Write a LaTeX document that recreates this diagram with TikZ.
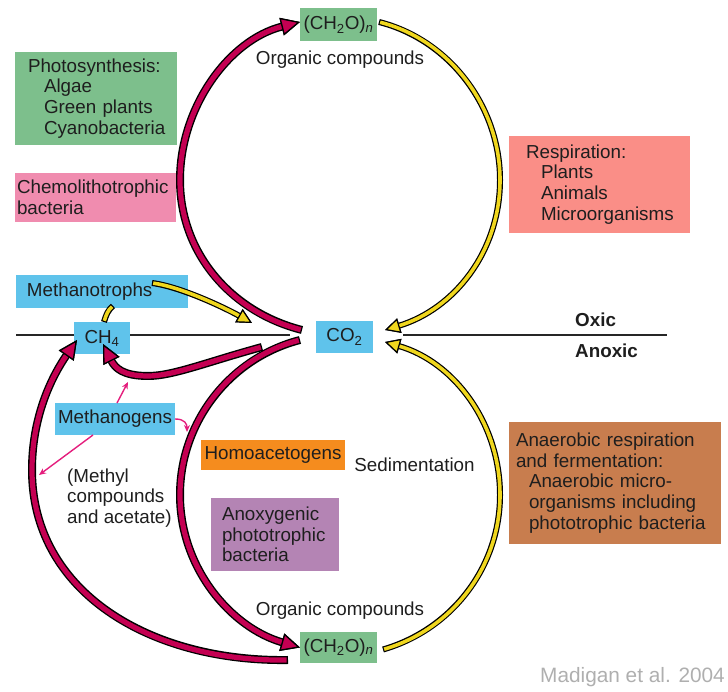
\documentclass[tikz,border=0pt]{standalone}
\usepackage{fontspec}
\setmainfont{Liberation Sans}
\usetikzlibrary{arrows.meta,calc}
\definecolor{boxgreen}{RGB}{125,191,140}
\definecolor{boxpink}{RGB}{240,140,175}
\definecolor{boxsalmon}{RGB}{250,142,135}
\definecolor{boxblue}{RGB}{95,195,235}
\definecolor{boxorange}{RGB}{245,140,30}
\definecolor{boxpurple}{RGB}{180,132,180}
\definecolor{boxbrown}{RGB}{200,125,78}
\definecolor{arrmag}{RGB}{196,0,82}
\definecolor{arryel}{RGB}{240,215,30}
\definecolor{thinmag}{RGB}{228,30,125}
\definecolor{txt}{RGB}{30,30,30}
\definecolor{creditgray}{RGB}{175,175,175}
\newcommand{\indline}[2][15pt]{\mbox{\hskip#1\relax #2}}
\newcommand{\magarrow}[1]{\draw[magout] #1;\draw[magin] #1;}
\newcommand{\yelarrow}[1]{\draw[yelout] #1;\draw[yelin] #1;}
\newcommand{\yelband}[1]{\draw[yelbandout] #1;\draw[yelbandin] #1;}
\begin{document}
\begin{tikzpicture}[x=1pt,y=1pt,
  every node/.style={font=\fontsize{18.8}{20.7}\selectfont, text=txt},
  cbox/.style={fill=#1, inner ysep=0pt, outer sep=0pt},
  plain/.style={inner sep=0pt},
  magout/.style={draw=black, line width=8pt,
    -{Triangle[length=19pt,width=18pt,line width=1.3pt,color=black,fill=black]}},
  magin/.style={draw=arrmag, line width=5.2pt, shorten <=1.3pt,
    -{Triangle[length=19pt,width=18pt,line width=1.3pt,color=black,fill=arrmag]}},
  yelout/.style={draw=black, line width=6pt,
    -{Triangle[length=15pt,width=15pt,line width=1.2pt,color=black,fill=black]}},
  yelin/.style={draw=arryel, line width=3.6pt, shorten <=1.2pt,
    -{Triangle[length=15pt,width=15pt,line width=1.2pt,color=black,fill=arryel]}},
  yelbandout/.style={draw=black, line width=6pt},
  yelbandin/.style={draw=arryel, line width=3.6pt, shorten <=1.2pt, shorten >=1.2pt},
  thinarrow/.style={draw=thinmag, line width=1.4pt, -{Stealth[length=7pt,width=6pt]}},
  boundary/.style={draw=black!85, line width=1.6pt}
]
\useasboundingbox (0,0) rectangle (728,692);
\clip (0,0) rectangle (728,692);

% oxic / anoxic boundary
\draw[boundary] (16,357) -- (290,357);
\draw[boundary] (403,357) -- (667,357);

% boxes
\node[cbox=boxgreen, minimum width=77, minimum height=33, inner xsep=0pt] (topCH) at (338.5,667) {(CH\textsubscript{2}O)\textsubscript{\itshape n}};
\node[cbox=boxgreen, minimum width=77, minimum height=31, inner xsep=0pt] (botCH) at (338.5,44.5) {(CH\textsubscript{2}O)\textsubscript{\itshape n}};
\node[cbox=boxblue, minimum width=57, minimum height=32, inner xsep=0pt] (CO2) at (344.5,355) {CO\textsubscript{2}};
\node[cbox=boxblue, minimum width=56, minimum height=32, inner xsep=0pt] (CH4) at (102,354) {CH\textsubscript{4}};
\node[cbox=boxblue, text width=150, inner xsep=11, minimum height=33, align=left] (meth) at (102,400.5) {Methanotrophs};
\node[cbox=boxblue, minimum width=120, minimum height=32, inner xsep=0pt] (mgen) at (115,273) {Methanogens};
\node[cbox=boxgreen, text width=136, inner xsep=13, minimum height=93, align=left] (photo) at (96,593.5)
  {Photosynthesis:\\\indline[16pt]{Algae}\\\indline[16pt]{Green plants}\\\indline[16pt]{Cyanobacteria}};
\node[cbox=boxpink, text width=157, inner xsep=2, minimum height=49, align=left] (chemo) at (95.5,494.5)
  {Chemolithotrophic\\bacteria};
\node[cbox=boxsalmon, text width=147, inner xsep=17, minimum height=97, align=left] (resp) at (599.5,507.5)
  {Respiration:\\\indline{Plants}\\\indline{Animals}\\\indline{Microorganisms}};
\node[cbox=boxbrown, text width=198, inner xsep=7, minimum height=122, align=left] (anaer) at (615,209)
  {Anaerobic respiration\\and fermentation:\\\indline[13pt]{Anaerobic micro-}\\\indline[13pt]{organisms including}\\\indline[13pt]{phototrophic bacteria}};
\node[cbox=boxorange, minimum width=144, minimum height=30, inner xsep=0pt] (homo) at (273,237) {Homoacetogens};
\node[cbox=boxpurple, text width=106, inner xsep=11, minimum height=73, align=left] (anox) at (275,157.5)
  {Anoxygenic\\phototrophic\\bacteria};

% plain labels
\node[plain] (orgT) at (340,632) {Organic compounds};
\node[plain] (orgB) at (340,81) {Organic compounds};
\node[plain] (sed) at (414.5,227) {Sedimentation};
\node[plain, anchor=west, align=left] (methyl) at (67,194) {(Methyl\\compounds\\and acetate)};
\node[plain, anchor=west, font=\fontsize{18.8}{20.7}\selectfont\bfseries] (oxic) at (575,372) {Oxic};
\node[plain, anchor=west, font=\fontsize{18.8}{20.7}\selectfont\bfseries] (anoxic) at (575,341) {Anoxic};
\node[plain, anchor=west, text=creditgray, font=\fontsize{20.8}{24}\selectfont] (credit) at (540,15) {Madigan et al. 2004};

% big cycle arrows
\magarrow{($(CO2.west)+(-14,7)$) .. controls +(-71,18) and +(0,-73) .. (180,512) .. controls +(0,73) and +(-71,-18) .. ($(topCH.west)+(0,3)$)}
\yelarrow{($(topCH.east)+(2,3)$) .. controls +(71,-18) and +(0,73) .. (500,512) .. controls +(0,-72) and +(69,21) .. ($(CO2.east)+(12,7)$)}
\yelarrow{($(botCH.east)+(6,-2)$) .. controls +(69,20) and +(0,-72) .. (500,197) .. controls +(0,72) and +(69,-20) .. ($(CO2.east)+(12,-5)$)}
\magarrow{($(CO2.west)+(-16,-3)$) .. controls +(-70,-18) and +(0,73) .. (180,197) .. controls +(0,-73) and +(-69,20) .. (botCH.west)}
\magarrow{($(botCH.south west)+(-12,3)$) .. controls +(-138,-2) and +(0,-122) .. (32,222) .. controls +(0,58) and +(-22,-32) .. ($(CH4.south west)+(3,14)$)}
\magarrow{($(CO2.west)+(-54,-10)$) .. controls +(-55,-15) and +(25,0) .. (148,316) .. controls +(-25,0) and +(12,-24) .. ($(CH4.south)+(1,10)$)}

% methane oxidation
\yelarrow{($(meth.north east)+(-36,-8)$) .. controls +(30,-4) and +(-25,14) .. ($(CO2.west)+(-64,14)$)}
\yelband{($(CH4.north)+(2,0)$) .. controls +(2,7) and +(-5,-4) .. ($(meth.south)+(11,2)$)}

% methanogen thin arrows
\coordinate (m1) at (128,310);
\coordinate (m2) at (39,217);
\coordinate (m3) at (187,260);
\draw[thinarrow] ($(mgen.north)+(2,0)$) -- (m1);
\draw[thinarrow] ($(mgen.south)+(-22,0)$) -- (m2);
\draw[thinarrow] (mgen.east) .. controls +(10,0) and +(0,8) .. (m3);
\end{tikzpicture}
\end{document}
